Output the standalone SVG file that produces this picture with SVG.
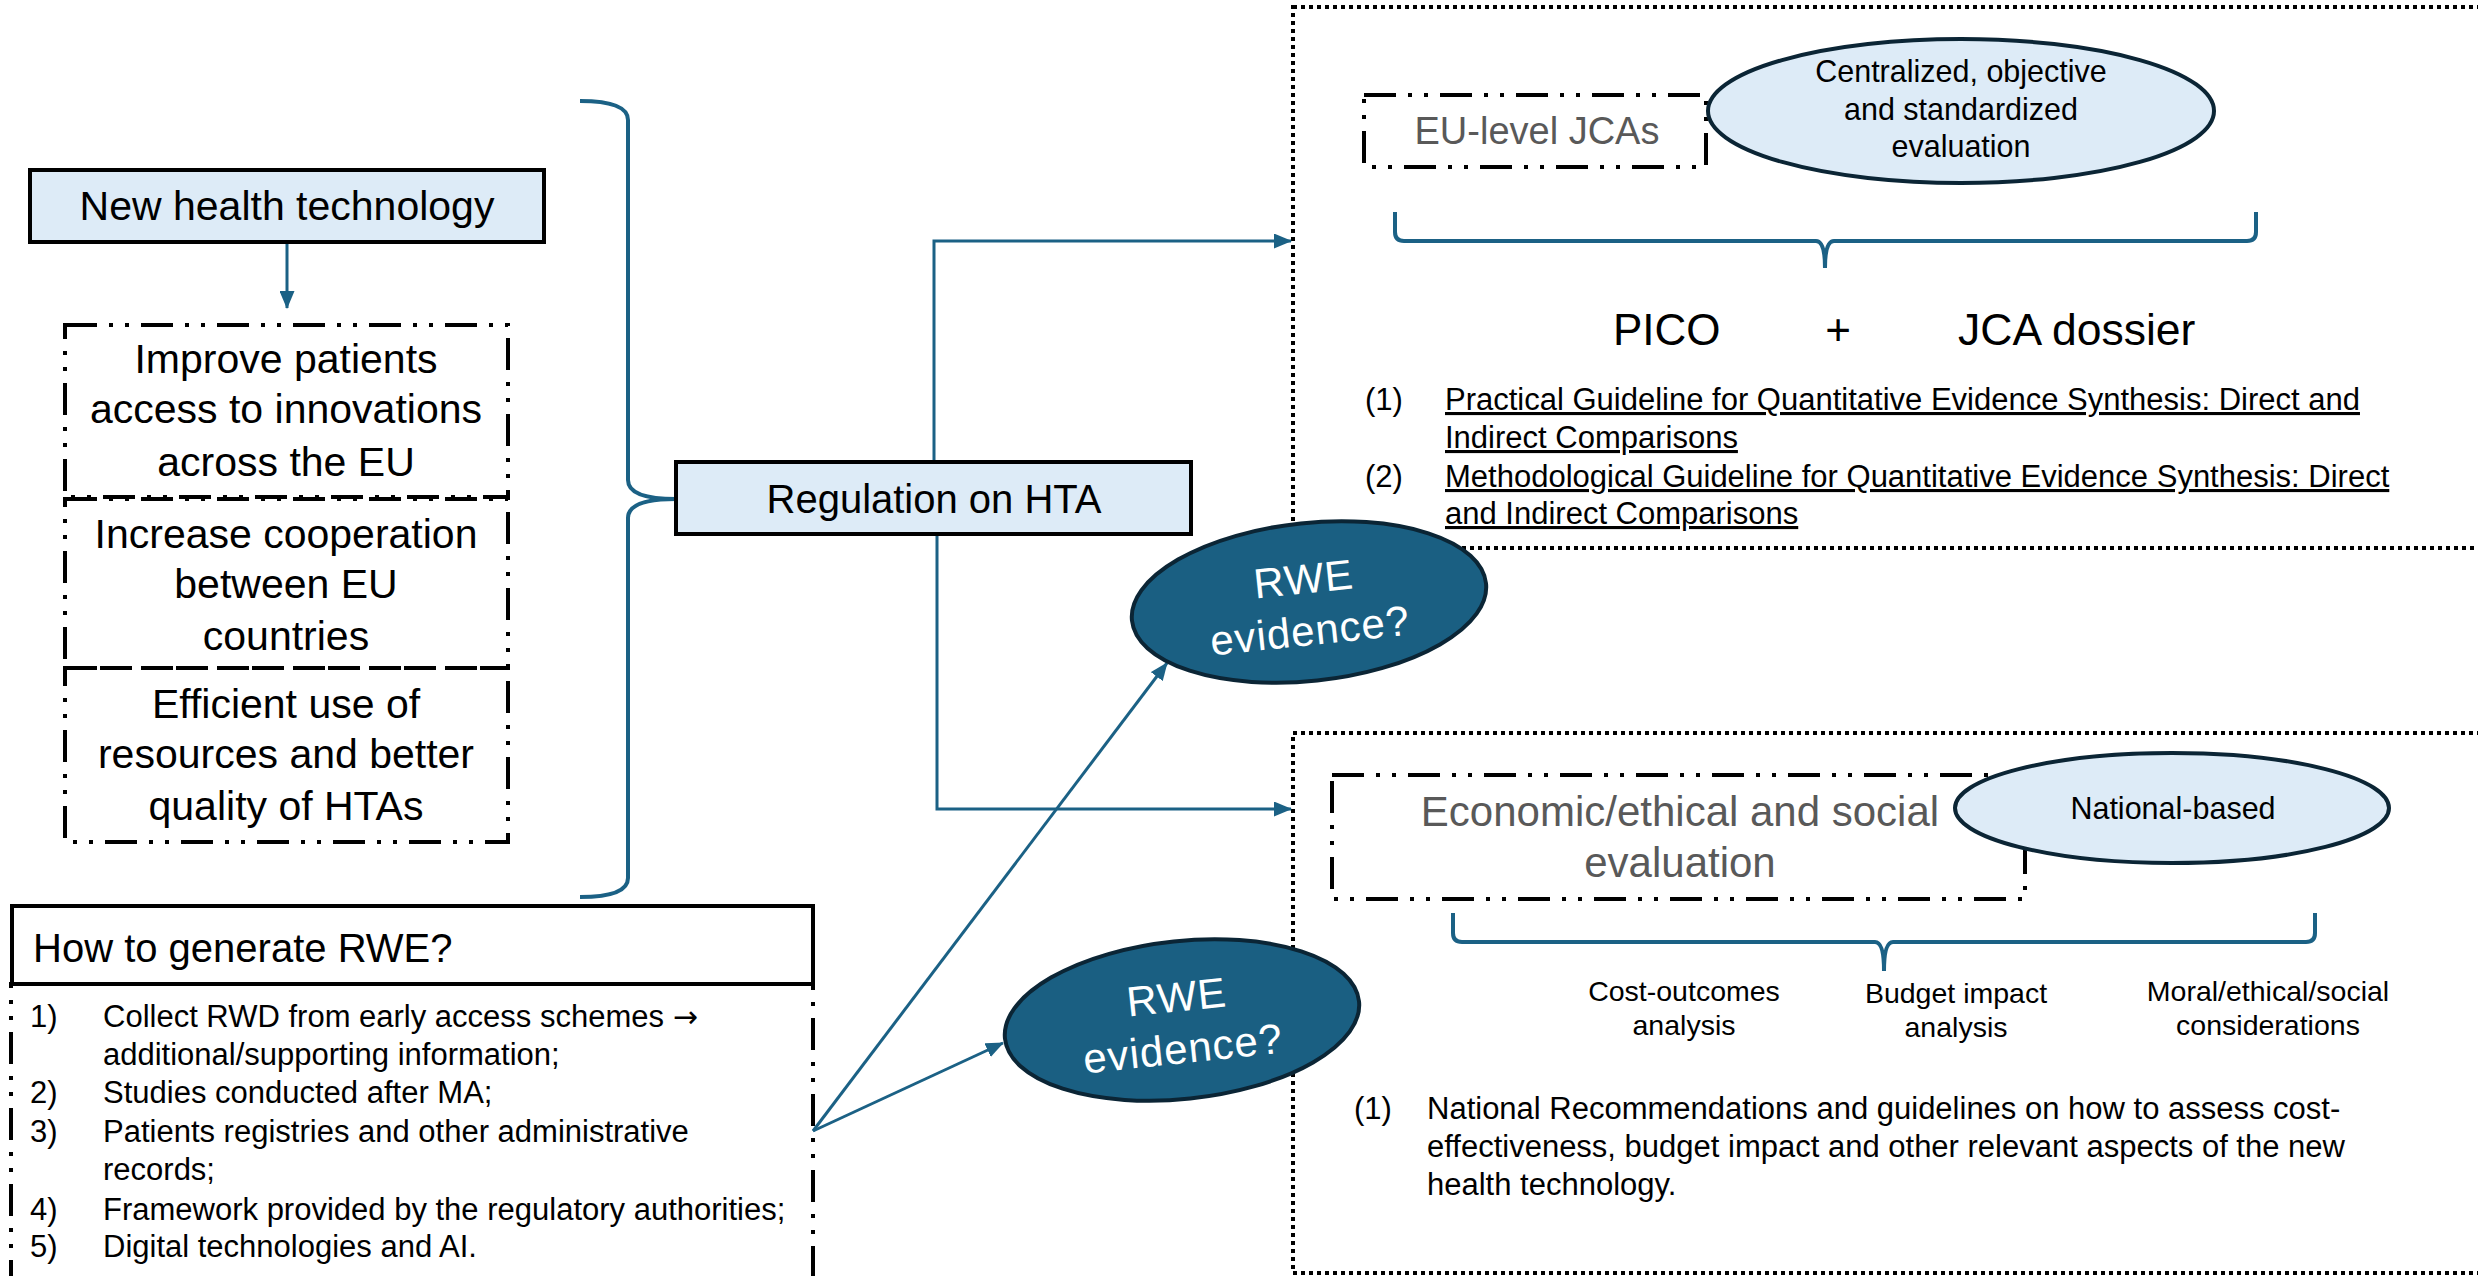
<svg xmlns="http://www.w3.org/2000/svg" width="2478" height="1276" viewBox="0 0 2478 1276">
<defs>
<marker id="arr" markerUnits="userSpaceOnUse" markerWidth="18" markerHeight="15" refX="17" refY="7.5" orient="auto"><path d="M0,0 L18,7.5 L0,15 z" fill="#1B6185"/></marker>
</defs>
<style>
text{font-family:"Liberation Sans",Arial,sans-serif;fill:#000}
.t41{font-size:41px}
.t31{font-size:31px}
.t28{font-size:28.5px}
.c{text-anchor:middle}
.solid{fill:#DDEBF7;stroke:#000;stroke-width:4}
.plain{fill:#fff;stroke:#000;stroke-width:4}
.dd{fill:none;stroke:#000;stroke-width:4;stroke-dasharray:32 12 4 12 4 12}
.dot{fill:none;stroke:#000;stroke-width:4;stroke-dasharray:4 4}
.conn{fill:none;stroke:#1B6185;stroke-width:3}
.brace{fill:none;stroke:#1B6185;stroke-width:4}
.lb{fill:#DDEBF7;stroke:#0B2535;stroke-width:4}
.rwe{fill:#1A5F82;stroke:#0B2535;stroke-width:4}
.rwet{font-size:42px;fill:#fff;letter-spacing:1px;text-anchor:middle}
.gray{fill:#595959}
.ul{text-decoration:underline}
</style>
<rect x="0" y="0" width="2478" height="1276" fill="#fff"/>

<g id="eu-panel">
<rect class="dot" x="1293" y="7" width="1220" height="541"/>
<path class="brace" d="M1395,212 L1395,232 Q1395,241 1404,241 L1816,241 Q1825,241 1825,268 Q1825,241 1834,241 L2247,241 Q2256,241 2256,232 L2256,212"/>
<text x="1613" y="345" style="font-size:44px">PICO</text>
<text x="1838" y="345" class="c" style="font-size:44px">+</text>
<text x="1958" y="345" style="font-size:44.5px">JCA dossier</text>
<text class="t31" x="1365" y="410">(1)</text>
<text class="t31 ul" x="1445" y="410">Practical Guideline for Quantitative Evidence Synthesis: Direct and</text>
<text class="t31 ul" x="1445" y="448">Indirect Comparisons</text>
<text class="t31" x="1365" y="487">(2)</text>
<text class="t31 ul" x="1445" y="487">Methodological Guideline for Quantitative Evidence Synthesis: Direct</text>
<text class="t31 ul" x="1445" y="524">and Indirect Comparisons</text>
</g>

<g id="national-panel">
<rect class="dot" x="1293" y="733" width="1220" height="540"/>
<path class="brace" d="M1453,913 L1453,933 Q1453,942 1462,942 L1875,942 Q1884,942 1884,971 Q1884,942 1893,942 L2306,942 Q2315,942 2315,933 L2315,913"/>
<text class="t28 c" x="1684" y="1001">Cost-outcomes</text>
<text class="t28 c" x="1684" y="1035">analysis</text>
<text class="t28 c" x="1956" y="1003">Budget impact</text>
<text class="t28 c" x="1956" y="1037">analysis</text>
<text class="t28 c" x="2268" y="1001">Moral/ethical/social</text>
<text class="t28 c" x="2268" y="1035">considerations</text>
<text class="t31" x="1354" y="1119">(1)</text>
<text class="t31" x="1427" y="1119">National Recommendations and guidelines on how to assess cost-</text>
<text class="t31" x="1427" y="1157">effectiveness, budget impact and other relevant aspects of the new</text>
<text class="t31" x="1427" y="1195">health technology.</text>
</g>

<g id="brace-left">
<path class="brace" d="M580,101 Q628,101 628,120 L628,480 Q628,499 676,499 Q628,499 628,518 L628,878 Q628,897 580,897"/>
</g>

<g id="connectors">
<path class="conn" d="M287,242 L287,308" marker-end="url(#arr)"/>
<path class="conn" d="M934,462 L934,241 L1291,241" marker-end="url(#arr)"/>
<path class="conn" d="M937,535 L937,809 L1291,809" marker-end="url(#arr)"/>
<path class="conn" d="M813,1131 L1167,663" marker-end="url(#arr)"/>
<path class="conn" d="M813,1131 L1003,1043" marker-end="url(#arr)"/>
</g>

<g id="new-health-technology">
<rect class="solid" x="30" y="170" width="514" height="72"/>
<text class="t41 c" x="287" y="220">New health technology</text>
</g>

<g id="goal-access">
<rect class="dd" x="65" y="325" width="443" height="172"/>
<text class="t41 c" x="286" y="373">Improve patients</text>
<text class="t41 c" x="286" y="423">access to innovations</text>
<text class="t41 c" x="286" y="476">across the EU</text>
</g>

<g id="goal-cooperation">
<rect class="dd" x="65" y="499" width="443" height="169"/>
<text class="t41 c" x="286" y="548">Increase cooperation</text>
<text class="t41 c" x="286" y="598">between EU</text>
<text class="t41 c" x="286" y="650">countries</text>
</g>

<g id="goal-efficiency">
<rect class="dd" x="65" y="668" width="443" height="174"/>
<text class="t41 c" x="286" y="718">Efficient use of</text>
<text class="t41 c" x="286" y="768">resources and better</text>
<text class="t41 c" x="286" y="820">quality of HTAs</text>
</g>

<g id="regulation-hta">
<rect class="solid" x="676" y="462" width="515" height="72"/>
<text class="t41 c" x="934" y="513" style="font-size:40px">Regulation on HTA</text>
</g>

<g id="rwe-list">
<rect class="dd" x="11" y="984" width="802" height="340"/>
<g class="t31">
<text x="30" y="1027">1)</text><text x="103" y="1027">Collect RWD from early access schemes <tspan style="font-family:'DejaVu Sans',sans-serif;font-size:30px">→</tspan></text>
<text x="103" y="1065">additional/supporting information;</text>
<text x="30" y="1103">2)</text><text x="103" y="1103">Studies conducted after MA;</text>
<text x="30" y="1142">3)</text><text x="103" y="1142">Patients registries and other administrative</text>
<text x="103" y="1180">records;</text>
<text x="30" y="1220">4)</text><text x="103" y="1220">Framework provided by the regulatory authorities;</text>
<text x="30" y="1257">5)</text><text x="103" y="1257">Digital technologies and AI.</text>
</g>
</g>

<g id="how-to-generate-rwe">
<rect class="plain" x="12" y="906" width="801" height="78"/>
<text x="33" y="962" style="font-size:40px">How to generate RWE?</text>
</g>

<g id="eu-level-jcas">
<rect class="dd" x="1364" y="95" width="342" height="72"/>
<text class="gray c" x="1537" y="144" style="font-size:38px">EU-level JCAs</text>
</g>

<g id="centralized">
<ellipse class="lb" cx="1961" cy="111" rx="253" ry="72"/>
<text class="c" x="1961" y="82" style="font-size:30.5px">Centralized, objective</text>
<text class="c" x="1961" y="120" style="font-size:30.5px">and standardized</text>
<text class="c" x="1961" y="157" style="font-size:30.5px">evaluation</text>
</g>

<g id="economic-evaluation">
<rect class="dd" x="1332" y="775" width="693" height="124"/>
<text class="gray c" x="1680" y="826" style="font-size:42px">Economic/ethical and social</text>
<text class="gray c" x="1680" y="877" style="font-size:42px">evaluation</text>
</g>

<g id="national-based">
<ellipse class="lb" cx="2172" cy="808" rx="217" ry="55"/>
<text class="c" x="2173" y="819" style="font-size:30.5px">National-based</text>
</g>

<g id="rwe-evidence-upper" transform="translate(1309,602) rotate(-6)">
<ellipse class="rwe" cx="0" cy="0" rx="178" ry="79"/>
<text class="rwet" x="-3" y="-9">RWE</text>
<text class="rwet" x="-2" y="43">evidence?</text>
</g>

<g id="rwe-evidence-lower" transform="translate(1182,1020) rotate(-6)">
<ellipse class="rwe" cx="0" cy="0" rx="178" ry="79"/>
<text class="rwet" x="-3" y="-9">RWE</text>
<text class="rwet" x="-2" y="43">evidence?</text>
</g>
</svg>
